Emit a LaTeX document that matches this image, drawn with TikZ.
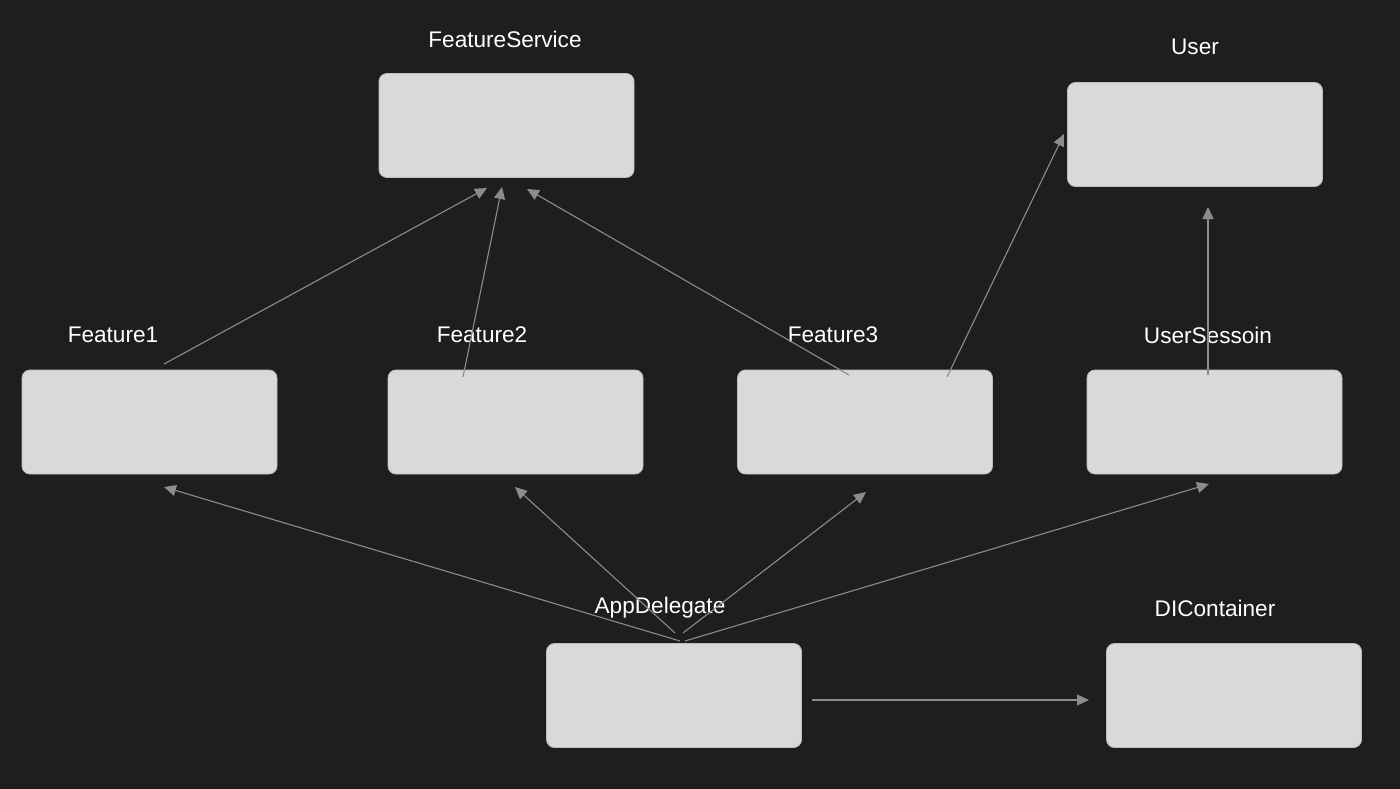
\documentclass[tikz,border=0pt]{standalone}
\usepackage{fontspec}
\setmainfont{Liberation Sans}
\usetikzlibrary{arrows.meta}
\definecolor{bgc}{HTML}{1E1E1E}
\definecolor{boxc}{HTML}{D9D9D9}
\definecolor{boxline}{HTML}{BDBDBD}
\definecolor{arrc}{HTML}{8C8C8C}
\tikzset{
  card/.style={draw=boxline, line width=0.8pt, fill=boxc, rounded corners=8pt, minimum width=255pt, minimum height=104pt, inner sep=0pt},
  lbl/.style={text=white, font=\fontsize{22.6}{26}\selectfont, inner sep=0pt},
  conn/.style={draw=arrc, line width=1.1pt, -{Triangle[length=12pt,width=11pt]}}
}
\begin{document}
\begin{tikzpicture}[x=1pt,y=-1pt]
\fill[bgc] (0,0) rectangle (1400,789);
\useasboundingbox (0,0) rectangle (1400,789);
% boxes
\node[card] (fs) at (506.5,125.5) {};
\node[card] (user) at (1195,134.5) {};
\node[card] (f1) at (149.5,422) {};
\node[card] (f2) at (515.5,422) {};
\node[card] (f3) at (865,422) {};
\node[card] (us) at (1214.5,422) {};
\node[card] (app) at (674,695.5) {};
\node[card] (di) at (1234,695.5) {};
% labels
\node[lbl] (lfs) at (505,39) {FeatureService};
\node[lbl] (luser) at (1195,47) {User};
\node[lbl] (lf1) at (113,335) {Feature1};
\node[lbl] (lf2) at (482,335) {Feature2};
\node[lbl] (lf3) at (833,335) {Feature3};
\node[lbl] (lus) at (1208,335) {UserSessoin};
\node[lbl] (lapp) at (660,608) {AppDelegate};
\node[lbl] (ldi) at (1215,608) {DIContainer};
% connector endpoints
\coordinate (f1s) at (164,364);
\coordinate (f1e) at (487,188);
\coordinate (f2s) at (463,377);
\coordinate (f2e) at (502,187);
\coordinate (f3s) at (849,375);
\coordinate (f3e) at (527,189);
\coordinate (f3u) at (947,377);
\coordinate (f3ue) at (1064,134);
\coordinate (uss) at (1208,375);
\coordinate (use) at (1208,207);
\coordinate (a1) at (680,641);
\coordinate (a1e) at (164,487);
\coordinate (a2) at (675,633);
\coordinate (a2e) at (515,487);
\coordinate (a3) at (683,633);
\coordinate (a3e) at (866,492);
\coordinate (a4) at (685,641);
\coordinate (a4e) at (1209,484);
\coordinate (a5) at (812,700);
\coordinate (a5e) at (1089,700);
% connectors
\draw[conn] (f1s) -- (f1e);
\draw[conn] (f2s) -- (f2e);
\draw[conn] (f3s) -- (f3e);
\draw[conn] (f3u) -- (f3ue);
\draw[conn] (uss) -- (use);
\draw[conn] (a1) -- (a1e);
\draw[conn] (a2) -- (a2e);
\draw[conn] (a3) -- (a3e);
\draw[conn] (a4) -- (a4e);
\draw[conn] (a5) -- (a5e);
\end{tikzpicture}
\end{document}
